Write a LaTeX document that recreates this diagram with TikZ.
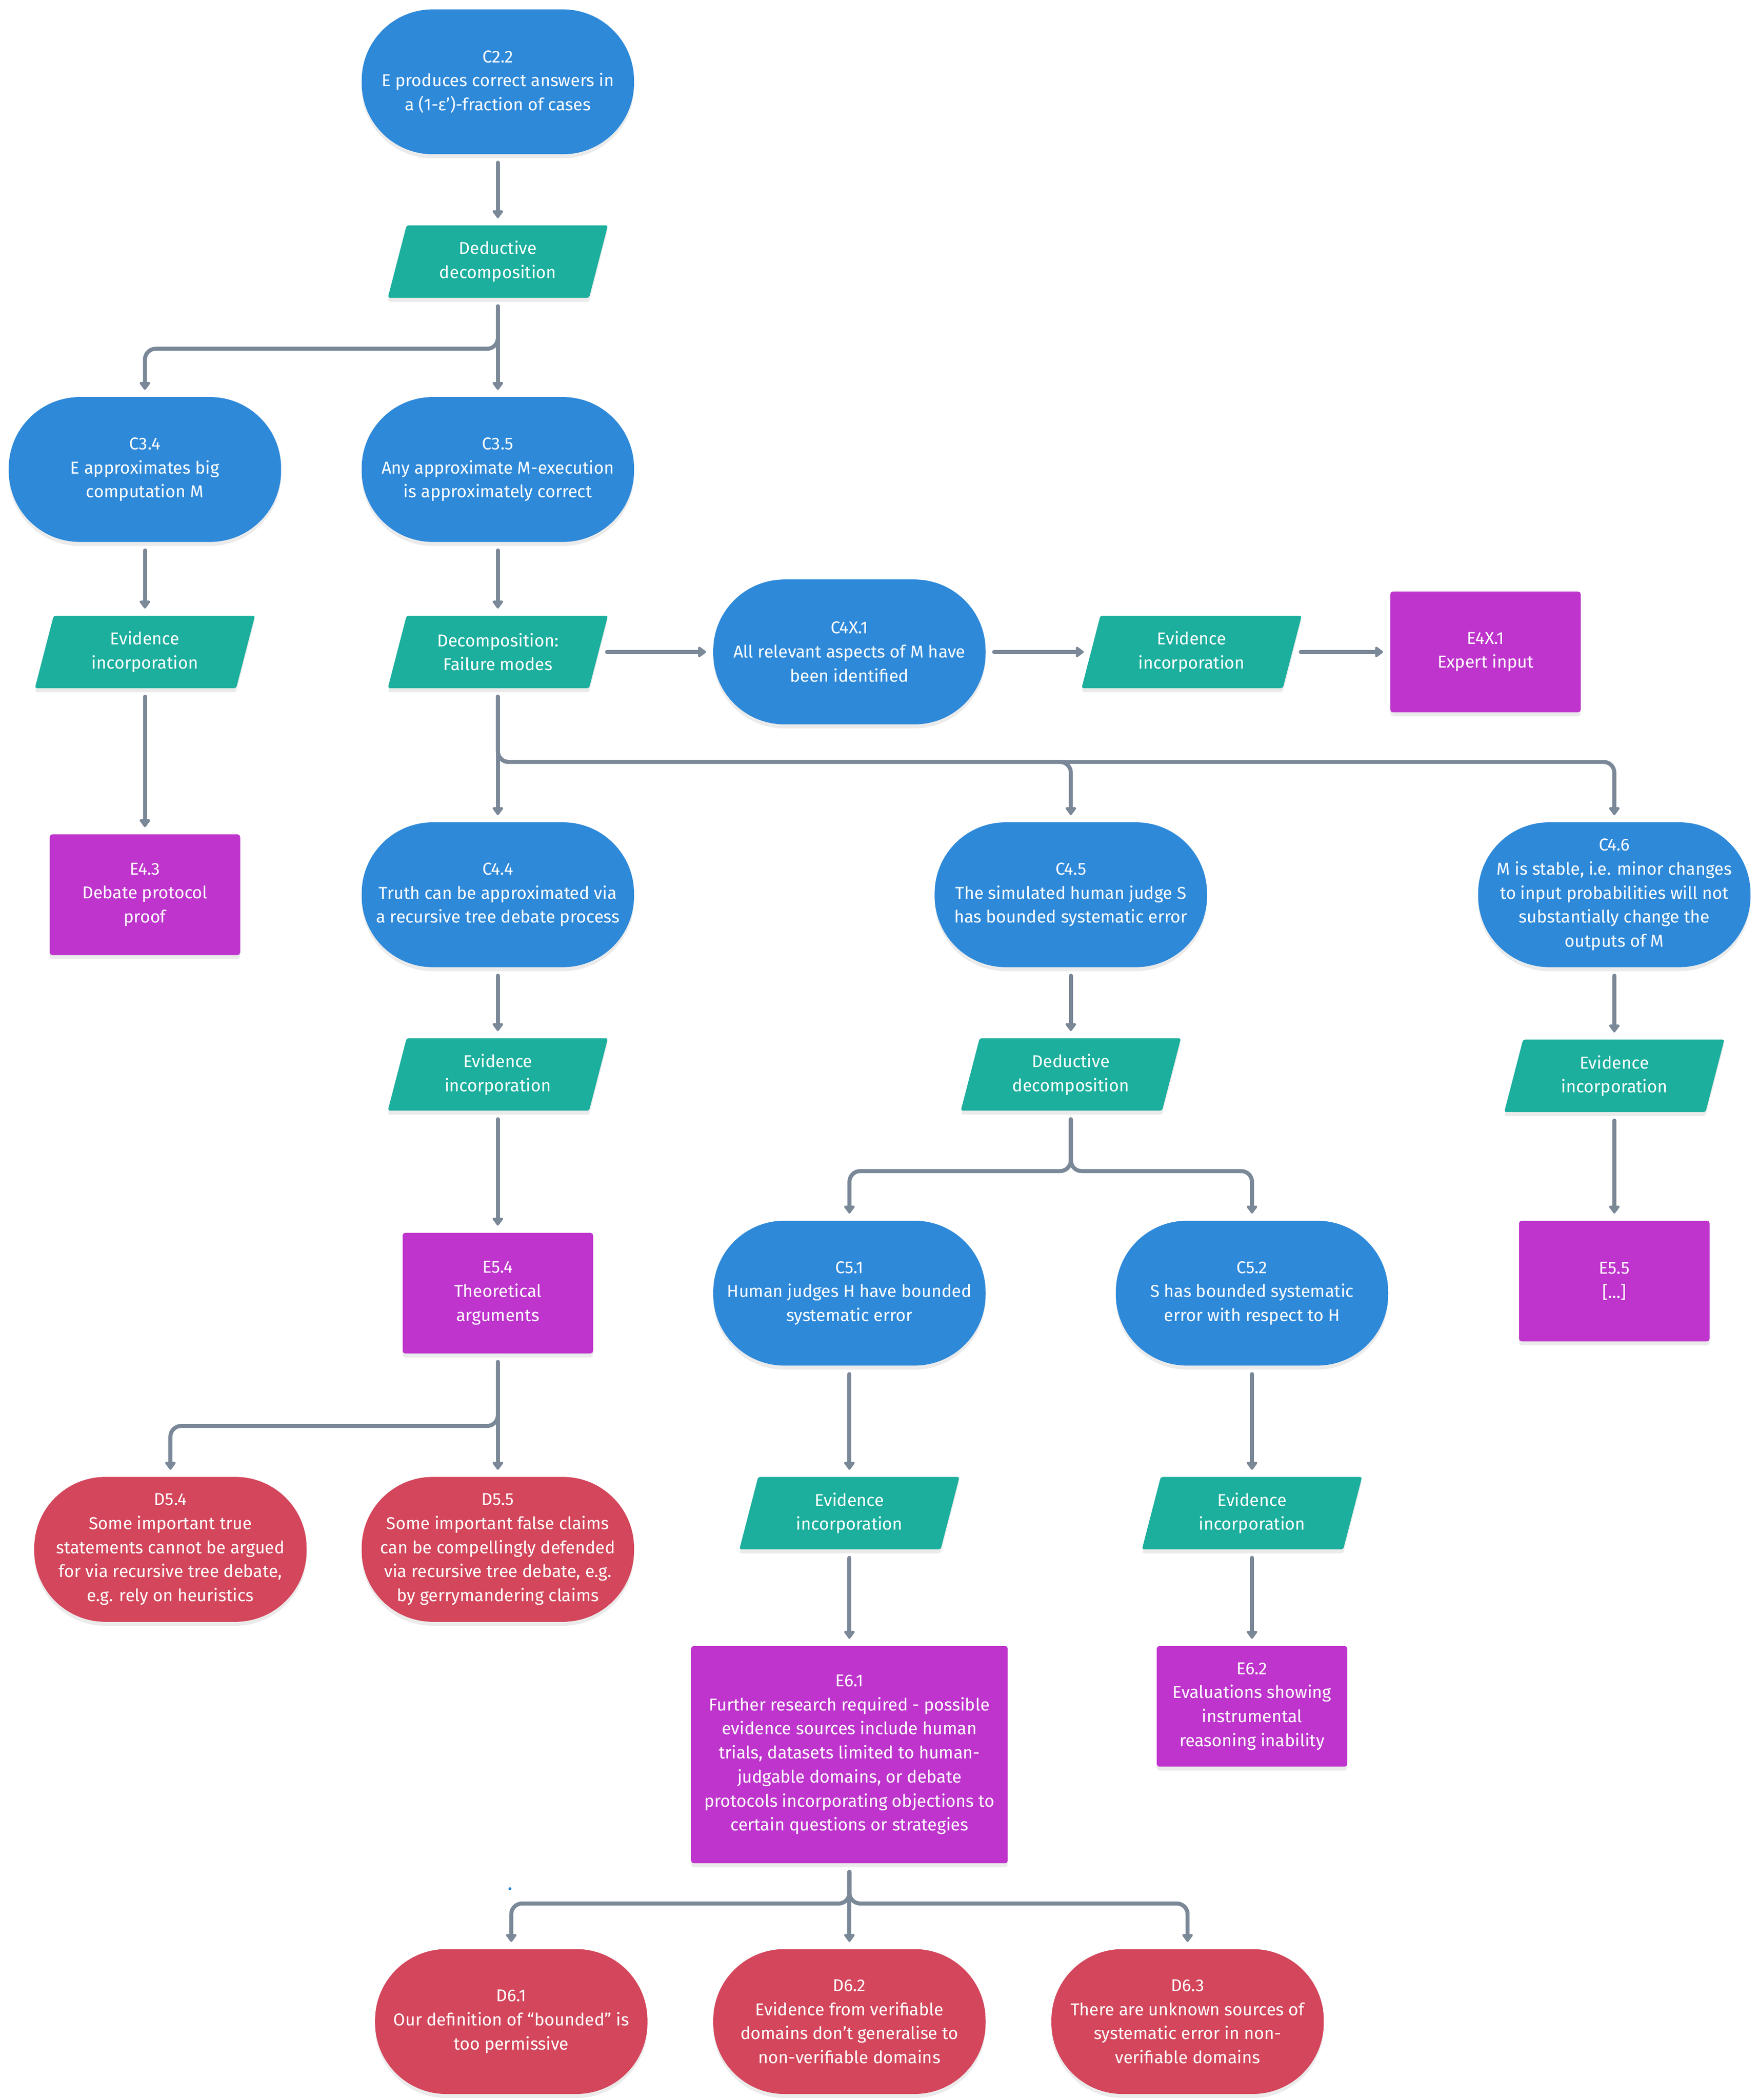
\documentclass[tikz,border=0pt]{standalone}
\usepackage{fontspec}
\setmainfont{Fira Sans}
\usetikzlibrary{arrows.meta,shapes.misc,shadows,calc}
\definecolor{cblue}{RGB}{46,137,217}
\definecolor{cteal}{RGB}{28,175,157}
\definecolor{cmag}{RGB}{190,52,204}
\definecolor{cred}{RGB}{211,70,91}
\definecolor{cgray}{RGB}{122,136,152}
\newcommand\ParaBox[4]{%
  \fill[cteal, shad, rounded corners=0.03cm] (#2-68,#3-27) -- (#2+82,#3-27) -- (#2+68,#3+27) -- (#2-82,#3+27) -- cycle;
  \node[ptext] (#1) at (#2,#3) {#4};
}
\begin{document}
\begin{tikzpicture}[x=0.02cm,y=-0.02cm,
  every node/.style={font=\fontsize{7.3}{10.2}\selectfont, text=white, align=center, inner sep=0pt},
  shad/.style={drop shadow={shadow xshift=0cm, shadow yshift=-0.06cm, opacity=0.08, fill=black}},
  claim/.style={rectangle, rounded corners=1.06cm, fill=cblue, minimum width=4.06cm, minimum height=2.16cm, shad},
  defeat/.style={claim, fill=cred},
  evid/.style={rectangle, rounded corners=0.04cm, fill=cmag, minimum width=2.84cm, minimum height=1.8cm, shad},
  ptext/.style={rectangle, minimum width=3cm, minimum height=1.08cm},
  conn/.style={draw=cgray, line width=1.7pt, line cap=round, -{Triangle[round,width=0.18cm,length=0.13cm]}, shorten <=0.12cm, shorten >=0.1cm, rounded corners=0.16cm},
]
\useasboundingbox (0,0) rectangle (1310,1565.5);
\fill[white] (0,0) rectangle (1310,1565.5);

% claims
\node[claim] (c22) at (371,61) {C2.2\\E produces correct answers in\\a (1-ε’)-fraction of cases};
\node[claim] (c34) at (108,350) {C3.4\\E approximates big\\computation M};
\node[claim] (c35) at (371,350) {C3.5\\Any approximate M-execution\\is approximately correct};
\node[claim] (c4x1) at (633,486) {C4X.1\\All relevant aspects of M have\\been identified};
\node[claim] (c44) at (371,667) {C4.4\\Truth can be approximated via\\a recursive tree debate process};
\node[claim] (c45) at (798,667) {C4.5\\The simulated human judge S\\has bounded systematic error};
\node[claim] (c46) at (1203,667) {C4.6\\M is stable, i.e. minor changes\\to input probabilities will not\\substantially change the\\outputs of M};
\node[claim] (c51) at (633,964) {C5.1\\Human judges H have bounded\\systematic error};
\node[claim] (c52) at (933,964) {C5.2\\S has bounded systematic\\error with respect to H};

% defeaters
\node[defeat] (d54) at (127,1155) {D5.4\\Some important true\\statements cannot be argued\\for via recursive tree debate,\\e.g. rely on heuristics};
\node[defeat] (d55) at (371,1155) {D5.5\\Some important false claims\\can be compellingly defended\\via recursive tree debate, e.g.\\by gerrymandering claims};
\node[defeat] (d61) at (381,1507) {D6.1\\Our definition of “bounded” is\\too permissive};
\node[defeat] (d62) at (633,1507) {D6.2\\Evidence from verifiable\\domains don’t generalise to\\non-verifiable domains};
\node[defeat] (d63) at (885,1507) {D6.3\\There are unknown sources of\\systematic error in non-\\verifiable domains};

% evidence
\node[evid] (e4x1) at (1107,486) {E4X.1\\Expert input};
\node[evid] (e43) at (108,667) {E4.3\\Debate protocol\\proof};
\node[evid] (e54) at (371,964) {E5.4\\Theoretical\\arguments};
\node[evid] (e55) at (1203,955) {E5.5\\{}[…]};
\node[evid, minimum width=4.72cm, minimum height=3.24cm] (e61) at (633,1308) {E6.1\\Further research required - possible\\evidence sources include human\\trials, datasets limited to human-\\judgable domains, or debate\\protocols incorporating objections to\\certain questions or strategies};
\node[evid] (e62) at (933,1272) {E6.2\\Evaluations showing\\instrumental\\reasoning inability};

% strategies
\ParaBox{dd1}{371}{195}{Deductive\\decomposition}
\ParaBox{ei34}{108}{486}{Evidence\\incorporation}
\ParaBox{dfm}{371}{486}{Decomposition:\\Failure modes}
\ParaBox{ei4x}{888}{486}{Evidence\\incorporation}
\ParaBox{ei44}{371}{801}{Evidence\\incorporation}
\ParaBox{dd45}{798}{801}{Deductive\\decomposition}
\ParaBox{ei46}{1203}{802}{Evidence\\incorporation}
\ParaBox{ei51}{633}{1128}{Evidence\\incorporation}
\ParaBox{ei52}{933}{1128}{Evidence\\incorporation}

% connectors
\draw[conn] (c22) -- (dd1);
\draw[conn] (dd1) -- (c35);
\draw[conn] (dd1.south) |- (c34.north |- 0,260) -- (c34.north);
\draw[conn] (c34) -- (ei34);
\draw[conn] (c35) -- (dfm);
\draw[conn] (dfm) -- (c4x1);
\draw[conn] (c4x1) -- (ei4x);
\draw[conn] (ei4x) -- (e4x1);
\draw[conn] (ei34) -- (e43);
\draw[conn] (dfm) -- (c44);
\draw[conn] (dfm.south) |- (c45.north |- 0,568) -- (c45.north);
\draw[conn] (dfm.south) |- (c46.north |- 0,568) -- (c46.north);
\draw[conn] (c44) -- (ei44);
\draw[conn] (c45) -- (dd45);
\draw[conn] (c46) -- (ei46);
\draw[conn] (ei44) -- (e54);
\draw[conn] (dd45.south) |- (c51.north |- 0,873) -- (c51.north);
\draw[conn] (dd45.south) |- (c52.north |- 0,873) -- (c52.north);
\draw[conn] (ei46) -- (e55);
\draw[conn] (e54.south) |- (d54.north |- 0,1063) -- (d54.north);
\draw[conn] (e54) -- (d55);
\draw[conn] (c51) -- (ei51);
\draw[conn] (c52) -- (ei52);
\draw[conn] (ei51) -- (e61);
\draw[conn] (ei52) -- (e62);
\draw[conn] (e61.south) |- (d61.north |- 0,1419) -- (d61.north);
\draw[conn] (e61) -- (d62);
\draw[conn] (e61.south) |- (d63.north |- 0,1419) -- (d63.north);

\fill[cblue] (380,1408) circle (0.022cm);
\end{tikzpicture}
\end{document}
